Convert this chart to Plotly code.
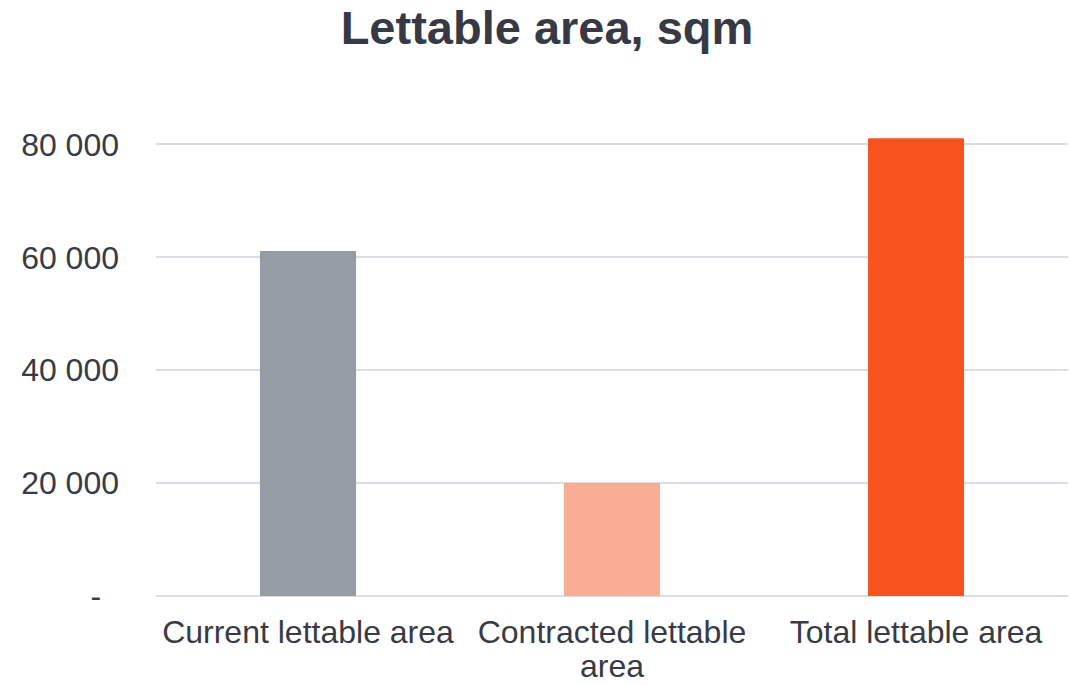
import plotly.graph_objects as go

# Lettable area by category (sqm)
categories = ["Current lettable area", "Contracted lettable area", "Total lettable area"]
values = [61100, 20000, 81100]
bar_colors = ["#969ca3", "#f9ae94", "#f9531f"]

# Category labels: first line on the axis, wrapped remainder placed beneath
label_first_lines = ["Current lettable area", "Contracted lettable", "Total lettable area"]
label_second_lines = ["", "area", ""]

tick_vals = [0, 20000, 40000, 60000, 80000]
tick_text = ["-\u2007", "20 000", "40 000", "60 000", "80 000"]

text_color = "#383b45"
grid_color = "#dedde3"
font_family = "Liberation Sans, Arial, sans-serif"

fig = go.Figure(
    go.Bar(
        x=categories,
        y=values,
        marker=dict(color=bar_colors, line=dict(width=0)),
        hoverinfo="skip",
    )
)

fig.update_layout(
    width=1069,
    height=685,
    margin=dict(l=156, r=1, t=88, b=89),
    paper_bgcolor="white",
    plot_bgcolor="white",
    bargap=0.684,
    showlegend=False,
    font=dict(family=font_family, size=32, color=text_color),
    title=dict(
        text="<b>Lettable area, sqm</b>",
        x=547 / 1069,
        xanchor="center",
        xref="container",
        y=1 - 28 / 685,
        yanchor="middle",
        yref="container",
        font=dict(family=font_family, size=47, color="#373a45"),
    ),
)

# wrapped second lines of the category labels (tighter line spacing)
for cat, line in zip(categories, label_second_lines):
    if line:
        fig.add_annotation(
            x=cat,
            xref="x",
            y=0,
            yref="paper",
            yanchor="middle",
            yshift=-70,
            text=line,
            showarrow=False,
            font=dict(family=font_family, size=32, color=text_color),
        )

fig.update_yaxes(
    range=[0, 90000],
    tickvals=tick_vals,
    ticktext=tick_text,
    showgrid=True,
    gridcolor=grid_color,
    gridwidth=2,
    zeroline=True,
    zerolinecolor=grid_color,
    zerolinewidth=2,
    showline=False,
    ticks="",
    ticklabelstandoff=36,
    automargin=False,
    tickfont=dict(family=font_family, size=32, color=text_color),
)

fig.update_xaxes(
    tickvals=categories,
    ticktext=label_first_lines,
    showgrid=False,
    showline=False,
    ticks="",
    ticklabelstandoff=14,
    automargin=False,
    tickfont=dict(family=font_family, size=32, color=text_color),
)

fig.write_html("out.html")
